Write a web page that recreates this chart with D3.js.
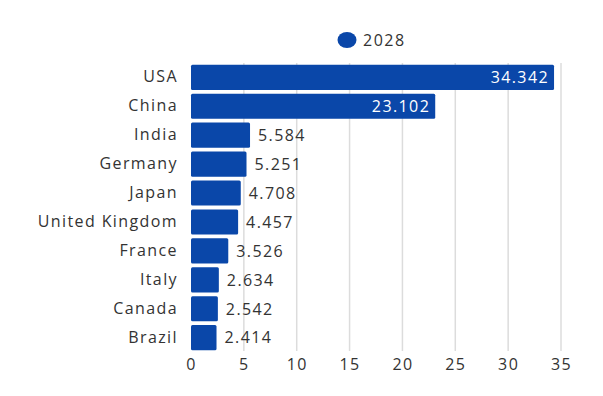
<!DOCTYPE html>
<html lang="en">
<head>
<meta charset="utf-8">
<title>GDP 2028</title>
<script src="https://d3js.org/d3.v7.min.js"></script>
<style>
  body { margin: 0; background: #fff; }
  svg { display: block; font-family: "Open Sans", sans-serif; }
</style>
</head>
<body>
<script>
const countries = ["USA", "China", "India", "Germany", "Japan", "United Kingdom", "France", "Italy", "Canada", "Brazil"];
const values2028 = [34.342, 23.102, 5.584, 5.251, 4.708, 4.457, 3.526, 2.634, 2.542, 2.414];
const xTicks = [0, 5, 10, 15, 20, 25, 30, 35];
const seriesName = "2028";

const W = 603, H = 396;
const barColor = "#0a47a9";
const textColor = "#333";

const data = countries.map((c, i) => ({country: c, value: values2028[i]}));

const svg = d3.select("body").append("svg").attr("width", W).attr("height", H);

const x = d3.scaleLinear().domain([0, 35]).range([191, 561]);
const y = d3.scaleBand().domain(countries).range([63, 352]).paddingInner(0.13).paddingOuter(0.06);

// grid lines
svg.append("g")
  .selectAll("line")
  .data(xTicks.slice(1))
  .join("line")
  .attr("x1", d => x(d)).attr("x2", d => x(d))
  .attr("y1", 63).attr("y2", 351)
  .attr("stroke", "#dcdcdc").attr("stroke-width", 1.5);

// bars
svg.append("g")
  .selectAll("rect")
  .data(data)
  .join("rect")
  .attr("x", x(0))
  .attr("y", d => y(d.country))
  .attr("width", d => x(d.value) - x(0))
  .attr("height", y.bandwidth())
  .attr("rx", 1.5)
  .attr("fill", barColor);

// value labels (white inside the long bars, dark outside the short ones)
svg.append("g")
  .selectAll("text")
  .data(data)
  .join("text")
  .attr("x", d => d.value > 15 ? x(d.value) - 5 : x(d.value) + 8)
  .attr("y", d => y(d.country) + y.bandwidth() / 2)
  .attr("dy", "0.36em")
  .attr("text-anchor", d => d.value > 15 ? "end" : "start")
  .attr("fill", d => d.value > 15 ? "#fff" : textColor)
  .attr("font-size", 16)
  .attr("letter-spacing", 1.4)
  .text(d => d.value.toFixed(3));

// y axis labels
const yAxis = d3.axisLeft(y).tickSize(0).tickPadding(13);
svg.append("g")
  .attr("transform", `translate(${x(0)},0)`)
  .call(yAxis)
  .call(g => g.select(".domain").remove())
  .call(g => g.selectAll("text").attr("font-size", 16).attr("fill", textColor)
    .attr("letter-spacing", 1.4).attr("font-family", "Open Sans, sans-serif"));

// x axis
const xAxis = d3.axisBottom(x).tickValues(xTicks).tickSize(0).tickPadding(7);
svg.append("g")
  .attr("transform", "translate(0,352)")
  .call(xAxis)
  .call(g => g.select(".domain").remove())
  .call(g => g.selectAll("text").attr("font-size", 16).attr("fill", textColor)
    .attr("letter-spacing", 1.4).attr("font-family", "Open Sans, sans-serif"));

// legend
const legend = svg.append("g").attr("transform", "translate(347,40)");
legend.append("ellipse").attr("rx", 9.5).attr("ry", 8).attr("fill", barColor);
legend.append("text").attr("x", 16).attr("dy", "0.36em")
  .attr("font-size", 16).attr("letter-spacing", 1.5).attr("fill", textColor).text(seriesName);
</script>
</body>
</html>
